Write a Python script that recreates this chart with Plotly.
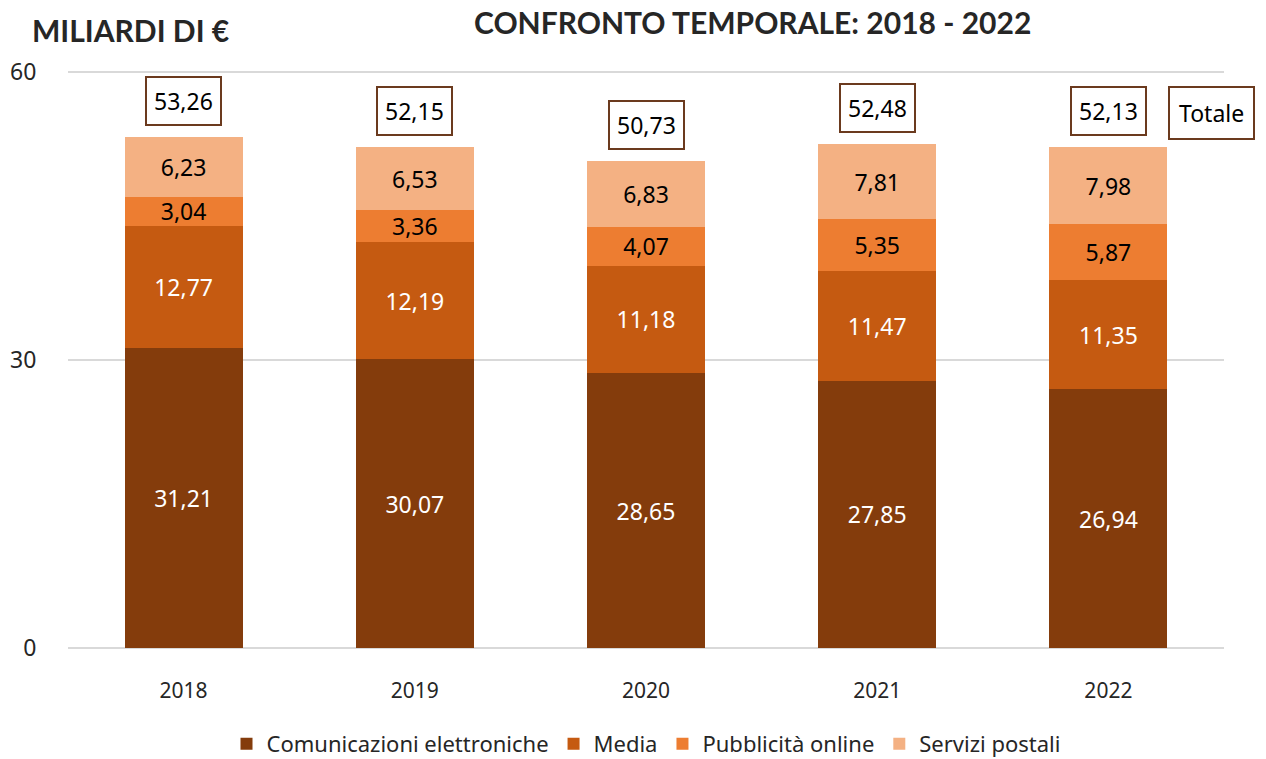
import plotly.graph_objects as go

anni = ["2018", "2019", "2020", "2021", "2022"]
comunicazioni = [31.21, 30.07, 28.65, 27.85, 26.94]
media = [12.77, 12.19, 11.18, 11.47, 11.35]
pubblicita = [3.04, 3.36, 4.07, 5.35, 5.87]
postali = [6.23, 6.53, 6.83, 7.81, 7.98]
totali = [53.26, 52.15, 50.73, 52.48, 52.13]

serie = [
    ("Comunicazioni elettroniche", comunicazioni, "#843C0C", "white"),
    ("Media", media, "#C55A11", "white"),
    ("Pubblicità online", pubblicita, "#ED7D31", "black"),
    ("Servizi postali", postali, "#F4B183", "black"),
]

FONT = "Noto Sans"
W, H = 1266, 759
ml, mr, mt, mb = 68, 42, 70, 109
pw, ph = W - ml - mr, H - mt - mb


def fmt(v):
    return f"{v:.2f}".replace(".", ",")


def px_x(x):
    return (x - ml) / pw


def px_y(y):
    return (H - mb - y) / ph


fig = go.Figure()
for nome, valori, colore, col_testo in serie:
    fig.add_trace(go.Bar(
        name=nome, x=anni, y=valori,
        marker=dict(color=colore, line=dict(width=0)),
        text=[fmt(v) for v in valori],
        textposition="inside", insidetextanchor="middle", textangle=0,
        textfont=dict(color=col_testo, size=23, family=FONT),
    ))

# etichette dei totali sopra le barre (x = indice della categoria)
for i, tot in enumerate(totali):
    fig.add_annotation(
        x=i, y=tot, text=fmt(tot), showarrow=False, yshift=36,
        xanchor="center", yanchor="middle",
        font=dict(size=23, color="black", family=FONT),
        bordercolor="#6B3A1E", borderwidth=2, borderpad=7, bgcolor="white",
    )

fig.add_annotation(
    x=px_x(1211), y=px_y(113), xref="paper", yref="paper", text="Totale", showarrow=False,
    xanchor="center", yanchor="middle",
    font=dict(size=23, color="black", family=FONT),
    bordercolor="#6B3A1E", borderwidth=2, borderpad=9, bgcolor="white",
)
fig.add_annotation(
    x=px_x(130), y=px_y(30), xref="paper", yref="paper", text="<b>MILIARDI DI €</b>",
    showarrow=False, xanchor="center", yanchor="middle",
    font=dict(size=30, color="#262626", family="Lato"),
)
fig.add_annotation(
    x=px_x(752), y=px_y(22), xref="paper", yref="paper",
    text="<b>CONFRONTO TEMPORALE: 2018 - 2022</b>", showarrow=False,
    xanchor="center", yanchor="middle",
    font=dict(size=30, color="#262626", family="Lato"),
)

fig.update_layout(
    width=W, height=H,
    barmode="stack", bargap=0.49,
    plot_bgcolor="white", paper_bgcolor="white",
    margin=dict(l=ml, r=mr, t=mt, b=mb, autoexpand=False),
    font=dict(family=FONT, size=21, color="#262626"),
    uniformtext=dict(minsize=23, mode="show"),
    legend=dict(orientation="h", x=0.5, xanchor="center", y=px_y(744), yanchor="middle",
                font=dict(size=22, family=FONT), traceorder="normal", itemwidth=30),
    showlegend=True,
)
fig.update_xaxes(type="category", range=[-0.5, 4.5], showline=False, ticks="outside",
                 ticklen=22, tickcolor="white", tickfont=dict(size=21))
fig.update_yaxes(range=[-0.2, 60.2], tickvals=[0, 30, 60], showgrid=True,
                 gridcolor="#D9D9D9", gridwidth=2, zeroline=False, tickfont=dict(size=23),
                 ticks="outside", ticklen=26, tickcolor="white")

fig.write_html("out.html", config={"displayModeBar": False},
               post_script="document.body.style.margin='0';")
